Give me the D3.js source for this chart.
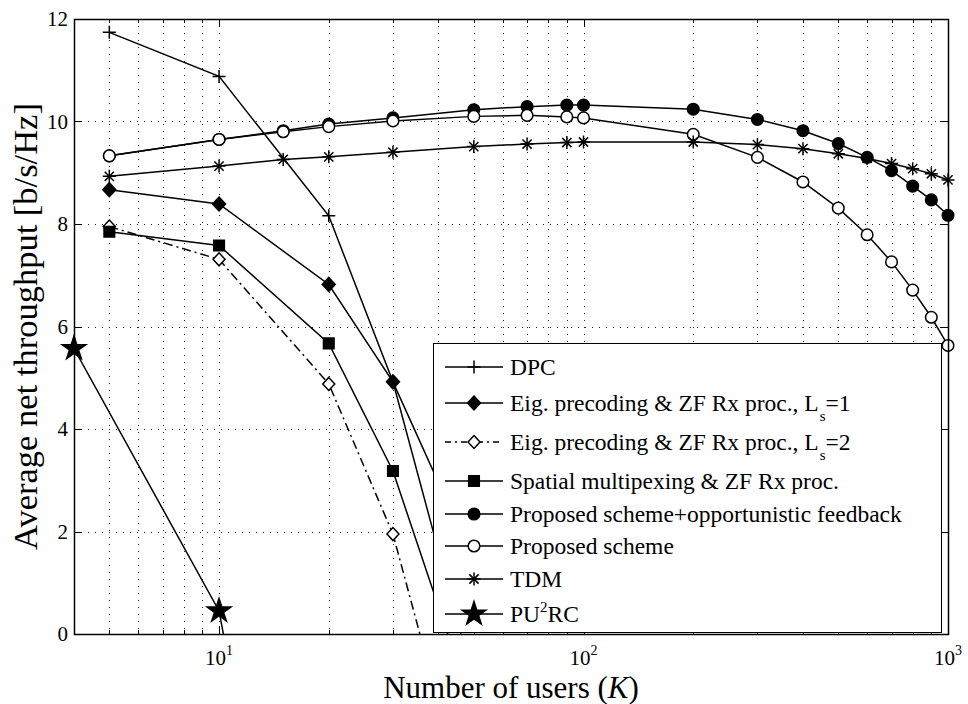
<!DOCTYPE html>
<html>
<head>
<meta charset="utf-8">
<script src="https://cdn.jsdelivr.net/npm/d3@7"></script>
<style>
  body { margin: 0; background: #fff; }
  svg { display: block; font-family: "Liberation Serif", "Times New Roman", serif; }
</style>
</head>
<body>
<svg id="chart" width="968" height="704"></svg>
<script>
// 数据：用户数与各方案的平均净吞吐量
const usersShort = [5, 10, 20, 30, 50];
const dpcValues = [11.74, 10.88, 8.16, 4.92, -0.94];
const eig1Values = [8.67, 8.39, 6.82, 4.92, 1.43];
const eig2Values = [7.95, 7.31, 4.88, 1.95, -3.9];
const spatialValues = [7.85, 7.58, 5.67, 3.18, -1.52];

const usersLong = [5, 10, 15, 20, 30, 50, 70, 90, 100, 200, 300, 400, 500, 600, 700, 800, 900, 1000];
const propOppValues = [9.33, 9.65, 9.82, 9.95, 10.07, 10.23, 10.29, 10.32, 10.32, 10.24, 10.04, 9.82, 9.57, 9.30, 9.04, 8.74, 8.47, 8.17];
const proposedValues = [9.33, 9.65, 9.80, 9.90, 10.01, 10.10, 10.12, 10.09, 10.07, 9.75, 9.30, 8.82, 8.31, 7.79, 7.26, 6.71, 6.18, 5.63];
const tdmValues = [8.93, 9.13, 9.26, 9.31, 9.40, 9.51, 9.56, 9.59, 9.60, 9.60, 9.55, 9.47, 9.37, 9.28, 9.18, 9.08, 8.98, 8.86];

const usersPu2rc = [4, 10, 15];
const pu2rcValues = [5.57, 0.45, -6.2];

const yTicks = [0, 2, 4, 6, 8, 10, 12];
const xMajorTicks = [10, 100, 1000];
const xTickExponents = ['1', '2', '3'];

const svg = d3.select('#chart');
const plotLeft = 74, plotRight = 948, plotTop = 19, plotBottom = 634;

const x = d3.scaleLog().domain([4, 1000]).range([plotLeft, plotRight]);
const y = d3.scaleLinear().domain([0, 12]).range([plotBottom, plotTop]);

// 次刻度（对数）
const xMinorTicks = x.ticks().filter(t => !xMajorTicks.includes(t));

// 网格线（点线）
const grid = svg.append('g').attr('stroke', '#222').attr('stroke-width', 1)
  .attr('stroke-dasharray', '1,6');
grid.selectAll('line.gx')
  .data(x.ticks().filter(t => t > 4 && t < 1000))
  .enter().append('line')
  .attr('x1', d => Math.round(x(d)) + 0.5).attr('x2', d => Math.round(x(d)) + 0.5)
  .attr('y1', plotTop).attr('y2', plotBottom);
grid.selectAll('line.gy')
  .data(yTicks.filter(t => t > 0 && t < 12))
  .enter().append('line')
  .attr('x1', plotLeft).attr('x2', plotRight)
  .attr('y1', d => Math.round(y(d)) + 0.5).attr('y2', d => Math.round(y(d)) + 0.5);

// 刻度（向内）
const ticks = svg.append('g').attr('stroke', '#000').attr('stroke-width', 1);
yTicks.forEach(t => {
  const yy = Math.round(y(t)) + 0.5;
  ticks.append('line').attr('x1', plotLeft).attr('x2', plotLeft + 8).attr('y1', yy).attr('y2', yy);
  ticks.append('line').attr('x1', plotRight - 8).attr('x2', plotRight).attr('y1', yy).attr('y2', yy);
});
xMajorTicks.forEach(t => {
  const xx = Math.round(x(t)) + 0.5;
  ticks.append('line').attr('x1', xx).attr('x2', xx).attr('y1', plotBottom).attr('y2', plotBottom - 8);
  ticks.append('line').attr('x1', xx).attr('x2', xx).attr('y1', plotTop).attr('y2', plotTop + 8);
});
xMinorTicks.forEach(t => {
  const xx = Math.round(x(t)) + 0.5;
  ticks.append('line').attr('x1', xx).attr('x2', xx).attr('y1', plotBottom).attr('y2', plotBottom - 4);
  ticks.append('line').attr('x1', xx).attr('x2', xx).attr('y1', plotTop).attr('y2', plotTop + 4);
});

// 剪裁区域
svg.append('clipPath').attr('id', 'plotClip')
  .append('rect').attr('x', plotLeft).attr('y', plotTop)
  .attr('width', plotRight - plotLeft).attr('height', plotBottom - plotTop);

// 标记形状
function pentagram(R) {
  const r = R * 0.382;
  const pts = [];
  for (let i = 0; i < 10; i++) {
    const a = -Math.PI / 2 + i * Math.PI / 5;
    const rr = i % 2 === 0 ? R : r;
    pts.push([rr * Math.cos(a), rr * Math.sin(a)]);
  }
  return 'M' + pts.map(p => p[0].toFixed(2) + ',' + p[1].toFixed(2)).join('L') + 'Z';
}
const markers = {
  plus: { d: 'M-6.5,0H6.5M0,-6.5V6.5', fill: 'none' },
  diamond: { d: 'M0,-7L6.5,0L0,7L-6.5,0Z', fill: '#000' },
  diamondOpen: { d: 'M0,-6.5L6,0L0,6.5L-6,0Z', fill: '#fff' },
  square: { d: 'M-5.3,-5.3H5.3V5.3H-5.3Z', fill: '#000' },
  circle: { d: d3.symbol(d3.symbolCircle, Math.PI * 5.8 * 5.8)(), fill: '#000' },
  circleOpen: { d: d3.symbol(d3.symbolCircle, Math.PI * 5.8 * 5.8)(), fill: '#fff' },
  asterisk: { d: 'M-6.5,0H6.5M0,-6.5V6.5M-4.6,-4.6L4.6,4.6M-4.6,4.6L4.6,-4.6', fill: 'none' },
  star: { d: pentagram(12.5), fill: '#000' }
};

const series = [
  { name: 'DPC', xs: usersShort, ys: dpcValues, marker: 'plus', dash: null },
  { name: 'Eig1', xs: usersShort, ys: eig1Values, marker: 'diamond', dash: null },
  { name: 'Eig2', xs: usersShort, ys: eig2Values, marker: 'diamondOpen', dash: '9,4,2,4' },
  { name: 'Spatial', xs: usersShort, ys: spatialValues, marker: 'square', dash: null },
  { name: 'PropOpp', xs: usersLong, ys: propOppValues, marker: 'circle', dash: null },
  { name: 'Proposed', xs: usersLong, ys: proposedValues, marker: 'circleOpen', dash: null },
  { name: 'TDM', xs: usersLong, ys: tdmValues, marker: 'asterisk', dash: null },
  { name: 'PU2RC', xs: usersPu2rc, ys: pu2rcValues, marker: 'star', dash: null }
];

const line = d3.line().x(d => x(d[0])).y(d => y(d[1]));

series.forEach(s => {
  const pts = s.xs.map((v, i) => [v, s.ys[i]]);
  const g = svg.append('g').attr('class', 'series');
  g.append('path')
    .datum(pts)
    .attr('d', line)
    .attr('fill', 'none')
    .attr('stroke', '#000')
    .attr('stroke-width', 1.5)
    .attr('stroke-dasharray', s.dash)
    .attr('clip-path', 'url(#plotClip)');
  const m = markers[s.marker];
  g.selectAll('path.mk')
    .data(pts.filter(p => p[1] >= 0 && p[1] <= 12))
    .enter().append('path')
    .attr('class', 'mk')
    .attr('transform', d => `translate(${x(d[0])},${y(d[1])})`)
    .attr('d', m.d)
    .attr('fill', m.fill)
    .attr('stroke', '#000')
    .attr('stroke-width', 1.5);
});

// 坐标框
svg.append('rect')
  .attr('x', plotLeft + 0.5).attr('y', plotTop + 0.5)
  .attr('width', plotRight - plotLeft).attr('height', plotBottom - plotTop)
  .attr('fill', 'none').attr('stroke', '#000').attr('stroke-width', 1.5);

// Y 轴刻度标签
svg.append('g').selectAll('text')
  .data(yTicks)
  .enter().append('text')
  .attr('x', 68).attr('y', d => y(d) + 7)
  .attr('text-anchor', 'end')
  .attr('font-size', 21)
  .text(d => d);

// X 轴刻度标签（10 的幂）
const xl = svg.append('g').selectAll('text')
  .data(xMajorTicks)
  .enter().append('text')
  .attr('x', d => x(d)).attr('y', 665)
  .attr('text-anchor', 'middle')
  .attr('font-size', 21);
xl.append('tspan').text('10');
xl.append('tspan').attr('dy', -10).attr('font-size', 14).text((d, i) => xTickExponents[i]);

// 轴标题
const xTitle = svg.append('text')
  .attr('x', (plotLeft + plotRight) / 2).attr('y', 698)
  .attr('text-anchor', 'middle')
  .attr('font-size', 31);
xTitle.append('tspan').text('Number of users (');
xTitle.append('tspan').attr('font-style', 'italic').text('K');
xTitle.append('tspan').text(')');

svg.append('text')
  .attr('transform', `translate(37,${(plotTop + plotBottom) / 2}) rotate(-90)`)
  .attr('text-anchor', 'middle')
  .attr('font-size', 34.5)
  .text('Average net throughput [b/s/Hz]');

// 图例
const legendRows = [
  { marker: 'plus', dash: null, y: 367, parts: [['DPC']] },
  { marker: 'diamond', dash: null, y: 403, parts: [['Eig. precoding & ZF Rx proc., L'], ['s', 'sub'], ['=1']] },
  { marker: 'diamondOpen', dash: '9,4,2,4', y: 442, parts: [['Eig. precoding & ZF Rx proc., L'], ['s', 'sub'], ['=2']] },
  { marker: 'square', dash: null, y: 481, parts: [['Spatial multipexing & ZF Rx proc.']] },
  { marker: 'circle', dash: null, y: 514, parts: [['Proposed scheme+opportunistic feedback']] },
  { marker: 'circleOpen', dash: null, y: 546, parts: [['Proposed scheme']] },
  { marker: 'asterisk', dash: null, y: 579, parts: [['TDM']] },
  { marker: 'star', dash: null, y: 614, parts: [['PU'], ['2', 'sup'], ['RC']] }
];

const legend = svg.append('g');
legend.append('rect')
  .attr('x', 433.5).attr('y', 343.5).attr('width', 508).attr('height', 289)
  .attr('fill', '#fff').attr('stroke', '#000').attr('stroke-width', 1);

legendRows.forEach(r => {
  legend.append('line')
    .attr('x1', 445).attr('x2', 503).attr('y1', r.y).attr('y2', r.y)
    .attr('stroke', '#000').attr('stroke-width', 1.5)
    .attr('stroke-dasharray', r.dash ? '6,4,2,4' : null);
  const m = markers[r.marker];
  legend.append('path')
    .attr('transform', `translate(474,${r.y})`)
    .attr('d', m.d).attr('fill', m.fill)
    .attr('stroke', '#000').attr('stroke-width', 1.5);
  const t = legend.append('text')
    .attr('x', 510).attr('y', r.y + 8)
    .attr('font-size', 23.5);
  let shift = 0;
  r.parts.forEach(p => {
    const ts = t.append('tspan').text(p[0]);
    if (p[1] === 'sub') {
      ts.attr('dy', 10 - shift).attr('font-size', 15).attr('dx', 1);
      shift = 10;
    } else if (p[1] === 'sup') {
      ts.attr('dy', -10 - shift).attr('font-size', 15);
      shift = -10;
    } else if (shift !== 0) {
      ts.attr('dy', -shift);
      shift = 0;
    }
  });
});
</script>
</body>
</html>
